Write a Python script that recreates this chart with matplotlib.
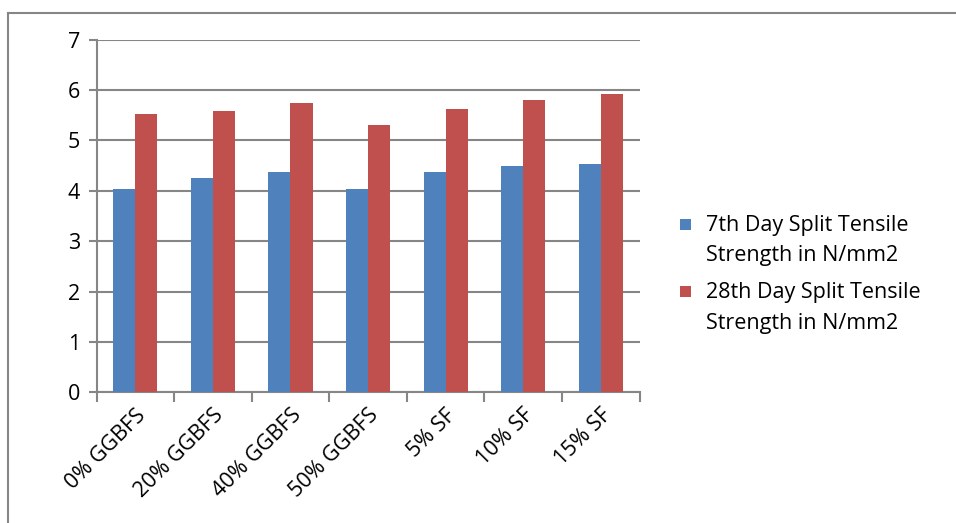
import numpy as np
import matplotlib
matplotlib.use('Agg')
import matplotlib.pyplot as plt
from matplotlib.lines import Line2D
from matplotlib.patches import Rectangle
from matplotlib.container import BarContainer
from matplotlib.legend_handler import HandlerPatch

# data
categories = ['0% GGBFS', '20% GGBFS', '40% GGBFS', '50% GGBFS', '5% SF', '10% SF', '15% SF']
day7 = [4.03, 4.25, 4.38, 4.03, 4.38, 4.50, 4.53]
day28 = [5.53, 5.59, 5.74, 5.31, 5.63, 5.81, 5.92]
series_names = ['7th Day Split Tensile\nStrength in N/mm2', '28th Day Split Tensile\nStrength in N/mm2']

plt.rcParams['font.family'] = ['Open Sans', 'DejaVu Sans']

fig = plt.figure(figsize=(9.56, 5.23), dpi=100)
ax = fig.add_axes([0.101, 0.250, 0.568, 0.674])

x = np.arange(len(categories))
w = 0.285
ax.bar(x - w / 2, day7, w, color='#4f81bd', label=series_names[0], zorder=3)
ax.bar(x + w / 2, day28, w, color='#c0504d', label=series_names[1], zorder=3)

ax.set_xlim(-0.5, len(categories) - 0.5)
ax.set_ylim(0, 7)
ax.set_yticks(range(0, 8))
ax.yaxis.grid(True, color='#868686', linewidth=1.5, zorder=0)

# category ticks sit on the boundaries, labels centred on groups
ax.set_xticks(np.arange(-0.5, len(categories)), minor=False)
ax.set_xticklabels([])
ax.set_xticks(x, minor=True)
ax.set_xticklabels(categories, minor=True, rotation=45, ha='right', rotation_mode='anchor', fontsize=15.5)
ax.tick_params(axis='x', which='minor', length=0, pad=9)
ax.tick_params(axis='x', which='major', length=7, width=1.5, color='#868686')
ax.tick_params(axis='y', length=6, width=1.5, color='#868686', labelsize=15.5, pad=6)

for side in ['top', 'right']:
    ax.spines[side].set_visible(False)
for side in ['left', 'bottom']:
    ax.spines[side].set_color('#868686')
    ax.spines[side].set_linewidth(1.5)

leg_fs = 15.5


def top_square(legend, orig_handle, xdescent, ydescent, width, height, fontsize):
    # square next to the first text line instead of the middle of the entry
    return Rectangle((-xdescent, -ydescent + 0.8 * fontsize), width, width)


def first_child(legend_handle, orig_handle):
    legend_handle.update_from(orig_handle.patches[0])


leg = ax.legend(loc='center left', bbox_to_anchor=(1.074, 0.335), frameon=False, fontsize=leg_fs,
                borderpad=0, borderaxespad=0,
                handlelength=0.5, handleheight=0.5, handletextpad=0.7, labelspacing=0.72,
                handler_map={BarContainer: HandlerPatch(patch_func=top_square, update_func=first_child)})
for t in leg.get_texts():
    t.set_linespacing(1.6)

# outer chart border (only top and left visible in the reference)
fig.add_artist(Line2D([8 / 956, 1], [1 - 13 / 523, 1 - 13 / 523], color='#868686', linewidth=1.5))
fig.add_artist(Line2D([8 / 956, 8 / 956], [0, 1 - 13 / 523], color='#868686', linewidth=1.5))

fig.savefig('out.png', dpi=100)
